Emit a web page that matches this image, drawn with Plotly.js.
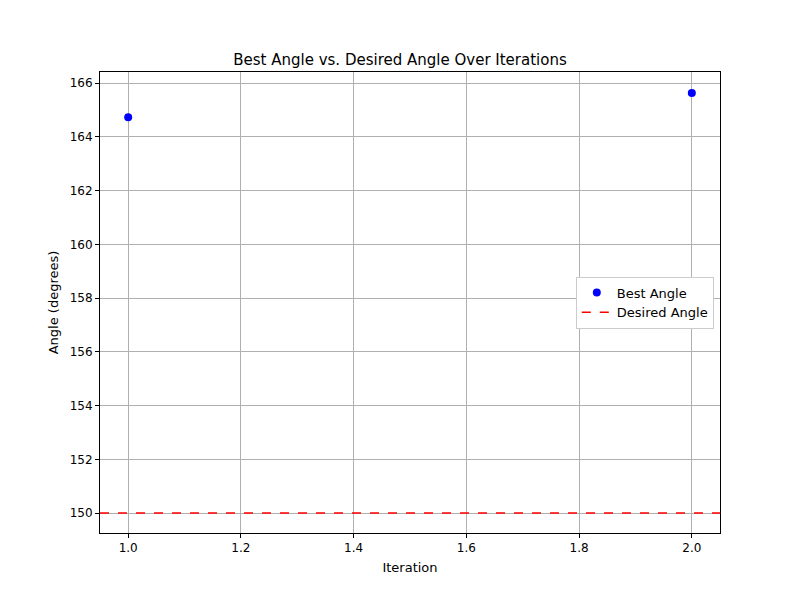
<!DOCTYPE html>
<html>
<head>
<meta charset="utf-8">
<script src="https://cdn.plot.ly/plotly-3.0.1.min.js"></script>
<style>body{margin:0;background:#fff}</style>
</head>
<body>
<div id="chart" style="width:800px;height:600px"></div>
<script>
// Best angle per iteration
var iterations = [1, 2];
var best_angles = [164.73, 165.63];
var desired_angle = 150;
var x_range = [0.95, 2.05];

var trace_best = {
  x: iterations,
  y: best_angles,
  mode: 'markers',
  type: 'scatter',
  name: 'Best Angle',
  marker: {color: '#0000ff', size: 8},
};

var trace_desired = {
  x: x_range,
  y: [desired_angle, desired_angle],
  mode: 'lines',
  type: 'scatter',
  name: 'Desired Angle',
  line: {color: '#ff0000', dash: 'dash', width: 1.5},
};

var axis_common = {
  showgrid: true,
  gridcolor: '#b0b0b0',
  gridwidth: 1,
  zeroline: false,
  showline: true,
  linecolor: 'black',
  linewidth: 1,
  mirror: true,
  ticks: 'outside',
  ticklen: 4,
  tickcolor: 'black',
  tickfont: {size: 12, color: 'black'},
};

var layout = {
  width: 800,
  height: 600,
  margin: {l: 100, r: 80, t: 72, b: 67},
  paper_bgcolor: 'white',
  plot_bgcolor: 'white',
  font: {family: 'DejaVu Sans', color: 'black'},
  title: {text: 'Best Angle vs. Desired Angle Over Iterations', font: {size: 15}, x: 0.5, y: 0.91, xanchor: 'center'},
  xaxis: Object.assign({}, axis_common, {
    range: x_range,
    tickvals: [1.0, 1.2, 1.4, 1.6, 1.8, 2.0],
    ticktext: ['1.0', '1.2', '1.4', '1.6', '1.8', '2.0'],
    title: {text: 'Iteration', font: {size: 13}, standoff: 8},
  }),
  yaxis: Object.assign({}, axis_common, {
    range: [149.26, 166.41],
    dtick: 2,
    title: {text: 'Angle (degrees)', font: {size: 13}, standoff: 8},
  }),
  showlegend: true,
  legend: {
    x: 0.99, y: 0.50, xanchor: 'right', yanchor: 'middle',
    bgcolor: 'white', bordercolor: '#cccccc', borderwidth: 1,
    font: {size: 13},
  },
};

Plotly.newPlot('chart', [trace_best, trace_desired], layout, {displayModeBar: false});
</script>
</body>
</html>
